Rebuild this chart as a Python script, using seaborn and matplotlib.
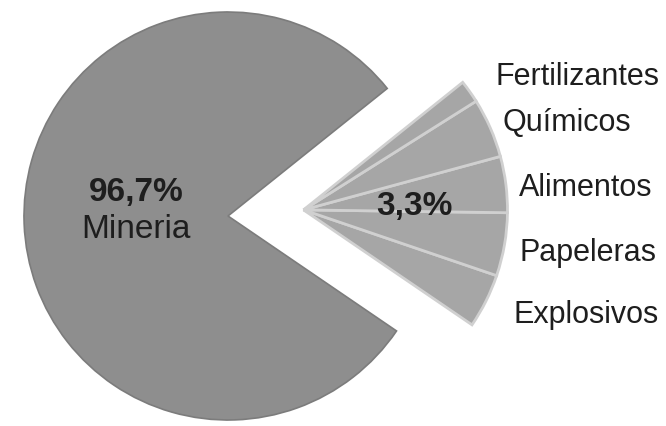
"""
plot.py - pie of industry shares: Mineria vs the exploded small sectors
"""

import matplotlib
matplotlib.use("Agg")
import matplotlib.pyplot as plt
import seaborn as sns

# Data
sectors = ['Mineria', 'Explosivos', 'Papeleras', 'Alimentos', 'Químicos', 'Fertilizantes']
# angular share of each wedge as drawn in the picture (degrees)
slice_deg = [287, 15.5, 18, 16, 17, 6.5]
share_labels = ['96,7%', '3,3%']

sns.set_theme(style="white")
plt.rcParams['font.family'] = ['Liberation Sans', 'DejaVu Sans']

fig = plt.figure(figsize=(6.66, 4.27), dpi=100)
ax = fig.add_axes([0, 0, 1, 1])

big_color = '#8e8e8e'
fan_color = '#a6a6a6'

# big slice (Mineria) at the origin
wedges_big, _ = ax.pie(slice_deg, startangle=38.7, counterclock=True,
                       colors=[big_color] + ['none'] * 5,
                       wedgeprops=dict(linewidth=1.2, edgecolor='#7c7c7c'))
for w in wedges_big[1:]:
    w.set_visible(False)

# the small sectors, shifted right as one fan
wedges_fan, _ = ax.pie(slice_deg, startangle=38.7, counterclock=True,
                       center=(0.37, 0.03),
                       colors=['none'] + [fan_color] * 5,
                       wedgeprops=dict(linewidth=2.0, edgecolor='#d0d0d0'))
wedges_fan[0].set_visible(False)
for w in wedges_fan[1:]:
    w.set_zorder(3)

ax.set_aspect('equal')
ax.set_xlim(-228 / 204, (666 - 228) / 204)
ax.set_ylim(-210 / 204, 217 / 204)
ax.axis('off')

# labels inside the slices
fig.text(136 / 666, 1 - 193 / 427, share_labels[0], fontsize=24, fontweight='bold',
         ha='center', va='center', color='#1e1e1e')
fig.text(136 / 666, 1 - 230 / 427, sectors[0], fontsize=24,
         ha='center', va='center', color='#1e1e1e')
fig.text(414 / 666, 1 - 207 / 427, share_labels[1], fontsize=24, fontweight='bold',
         ha='center', va='center', color='#1e1e1e', zorder=5)

# sector names to the right of the fan
label_pos = {'Fertilizantes': (495, 77), 'Químicos': (502, 123), 'Alimentos': (519, 188),
             'Papeleras': (520, 253), 'Explosivos': (514, 315)}
for name in sectors[1:]:
    x, y = label_pos[name]
    fig.text(x / 666, 1 - y / 427, name, fontsize=22, ha='left', va='center', color='#1e1e1e')

fig.savefig('out.png', dpi=100, facecolor='white')
